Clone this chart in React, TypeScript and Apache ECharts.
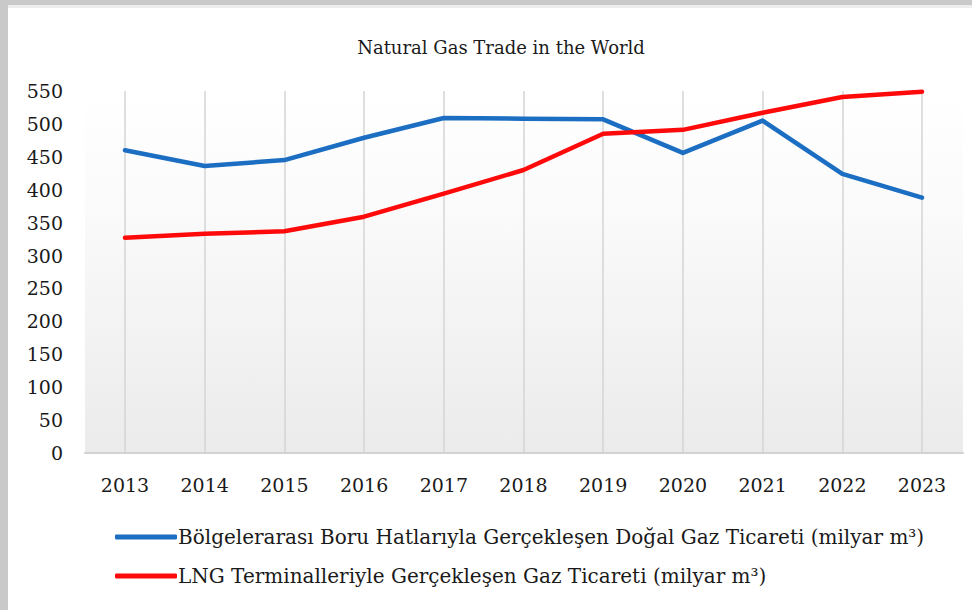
import React, { useEffect, useRef } from "react";
import * as echarts from "echarts";

const title = "Natural Gas Trade in the World";
const years = ["2013", "2014", "2015", "2016", "2017", "2018", "2019", "2020", "2021", "2022", "2023"];
const pipelineName = "Bölgelerarası Boru Hatlarıyla Gerçekleşen Doğal Gaz Ticareti (milyar m³)";
const lngName = "LNG Terminalleriyle Gerçekleşen Gaz Ticareti (milyar m³)";
const pipelineValues = [460, 436, 445, 479, 509, 508, 507, 456, 505, 424, 388];
const lngValues = [327, 333, 337, 359, 394, 430, 485, 491, 517, 541, 549];
const yMin = 0;
const yMax = 550;
const yStep = 50;

const FONT = "DejaVu Serif";

export default function App() {
  const ref = useRef<HTMLDivElement>(null);
  useEffect(() => {
    if (!ref.current) return;
    const chart = echarts.init(ref.current, null, { renderer: "svg" });
    const top = 91;
    const bottom = 157;
    chart.setOption({
      animation: false,
      backgroundColor: "#ffffff",
      textStyle: { fontFamily: FONT },
      title: {
        text: title,
        left: 496,
        textAlign: "center",
        top: 33,
        textStyle: { fontFamily: FONT, fontSize: 18, fontWeight: "normal", color: "#1a1a1a" },
      },
      graphic: [
        { type: "rect", shape: { x: 0, y: 0, width: 972, height: 5 }, style: { fill: "#c9c9c9" }, silent: true },
        { type: "rect", shape: { x: 0, y: 5, width: 972, height: 3 }, style: { fill: "#ededed" }, silent: true },
        { type: "rect", shape: { x: 0, y: 0, width: 8, height: 610 }, style: { fill: "#c9c9c9" }, silent: true },
      ],
      legend: {
        orient: "vertical",
        left: 110,
        top: 522,
        itemWidth: 62,
        itemHeight: 5,
        itemGap: 19,
        icon: "roundRect",
        data: [pipelineName, lngName],
        textStyle: { fontFamily: FONT, fontSize: 20, color: "#1a1a1a", padding: [0, 0, 0, -4] },
      },
      grid: [
        {
          left: 85,
          right: 9,
          top: top,
          bottom: bottom,
          show: true,
          borderWidth: 0,
          backgroundColor: new echarts.graphic.LinearGradient(0, 0, 0, 1, [
            { offset: 0, color: "#ffffff" },
            { offset: 0.3, color: "#fbfbfb" },
            { offset: 1, color: "#ebebeb" },
          ]),
        },
        { left: 125, right: 50, top: top, bottom: bottom },
      ],
      xAxis: [
        {
          type: "category",
          gridIndex: 0,
          data: [""],
          axisLine: { show: true, lineStyle: { color: "#d2d2d2", width: 2 } },
          axisTick: { show: false },
          axisLabel: { show: false },
          splitLine: { show: false },
        },
        {
          type: "category",
          gridIndex: 1,
          data: years,
          boundaryGap: false,
          axisLine: { show: false },
          axisTick: { show: false },
          axisLabel: { fontFamily: FONT, fontSize: 19, color: "#1a1a1a", margin: 22 },
          splitLine: { show: true, lineStyle: { color: "#d4d4d4", width: 1.5 } },
        },
      ],
      yAxis: [
        {
          type: "value",
          gridIndex: 0,
          min: yMin,
          max: yMax,
          interval: yStep,
          axisLine: { show: false },
          axisTick: { show: false },
          splitLine: { show: false },
          axisLabel: { fontFamily: FONT, fontSize: 19, color: "#1a1a1a", margin: 22 },
        },
        {
          type: "value",
          gridIndex: 1,
          min: yMin,
          max: yMax,
          interval: yStep,
          show: false,
          splitLine: { show: false },
        },
      ],
      series: [
        {
          name: pipelineName,
          type: "line",
          xAxisIndex: 1,
          yAxisIndex: 1,
          data: pipelineValues,
          symbol: "none",
          lineStyle: { color: "#1b6ec2", width: 4.5, cap: "round", join: "round" },
          itemStyle: { color: "#1b6ec2" },
          z: 3,
        },
        {
          name: lngName,
          type: "line",
          xAxisIndex: 1,
          yAxisIndex: 1,
          data: lngValues,
          symbol: "none",
          lineStyle: { color: "#ff0a0a", width: 4.5, cap: "round", join: "round" },
          itemStyle: { color: "#ff0a0a" },
          z: 4,
        },
      ],
    });
    return () => chart.dispose();
  }, []);
  return (
    <div style={{ position: "fixed", left: 0, top: 0, width: 972, height: 610 }}>
      <div ref={ref} style={{ width: 972, height: 610 }} />
    </div>
  );
}
